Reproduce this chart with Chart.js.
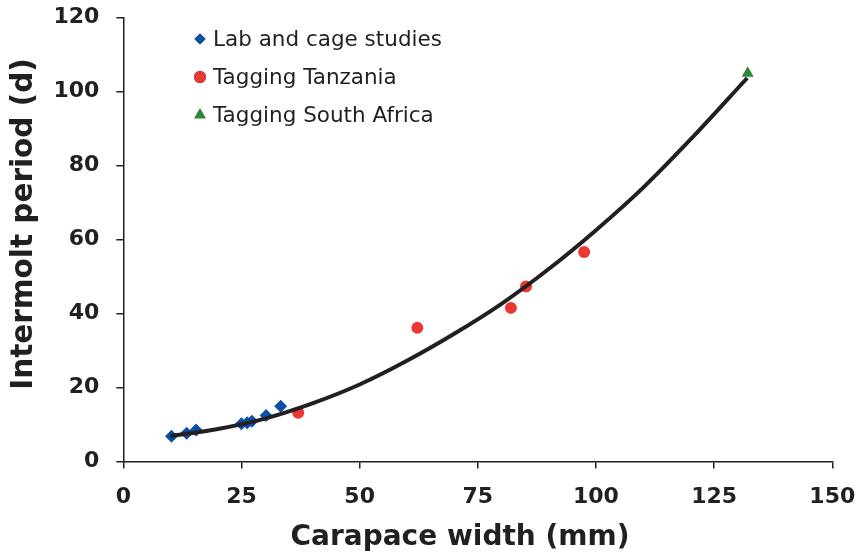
<!DOCTYPE html>
<html>
<head>
<meta charset="utf-8">
<script src="https://cdn.jsdelivr.net/npm/chart.js@4"></script>
<style>
  html, body { margin: 0; padding: 0; background: #fff; }
  #wrap { width: 862px; height: 558px; }
</style>
</head>
<body>
<div id="wrap"><canvas id="chart" width="862" height="558"></canvas></div>
<script>
// values
const labWidth = [10.2, 13.4, 15.4, 25.0, 26.2, 27.2, 30.2, 33.3];
const labPeriod = [6.8, 7.6, 8.5, 10.2, 10.5, 10.9, 12.4, 14.9];

const tanzWidth = [37.0, 62.2, 82.0, 85.2, 97.5];
const tanzPeriod = [13.2, 36.1, 41.5, 47.3, 56.6];

const saWidth = [132.1];
const saPeriod = [104.9];

// trend curve
const trendWidth = [10, 20, 30, 40, 50, 60, 70, 80, 90, 100, 110, 120, 132];
const trendPeriod = [6.9, 8.8, 11.6, 15.7, 20.8, 27.2, 34.5, 42.6, 52, 62.5, 74, 87, 103.6];

const xTicks = [0, 25, 50, 75, 100, 125, 150];
const yTicks = [0, 20, 40, 60, 80, 100, 120];

const xTitle = 'Carapace width (mm)';
const yTitle = 'Intermolt period (d)';

const toPts = (xs, ys) => xs.map((x, i) => ({ x, y: ys[i] }));

const FONT = '"DejaVu Sans", Verdana, sans-serif';
const INK = '#231f20';

// legend drawn inside the plot, top left
const insideLegend = {
  id: 'insideLegend',
  afterDraw(chart) {
    const { ctx } = chart;
    const items = chart.data.datasets.filter((d) => d.inLegend);
    ctx.save();
    ctx.font = '21.5px ' + FONT;
    ctx.textBaseline = 'middle';
    items.forEach((ds, i) => {
      const y = 39 + i * 38;
      Chart.helpers.drawPoint(ctx, {
        pointStyle: ds.pointStyle,
        radius: ds.legendRadius,
        rotation: 0,
        borderWidth: 0
      }, 200, y);
      ctx.fillStyle = ds.backgroundColor;
      ctx.fill();
      ctx.fillStyle = INK;
      ctx.fillText(ds.label, 213, y + 1);
    });
    ctx.restore();
  }
};

// axis titles sit a bit off centre in the original, so draw them here
const axisTitles = {
  id: 'axisTitles',
  afterDraw(chart) {
    const { ctx } = chart;
    ctx.save();
    ctx.fillStyle = INK;
    ctx.textAlign = 'center';
    ctx.textBaseline = 'middle';
    ctx.font = 'bold 28px ' + FONT;
    ctx.fillText(xTitle, 460, 538);
    ctx.translate(24, 224);
    ctx.rotate(-Math.PI / 2);
    ctx.font = 'bold 29.5px ' + FONT;
    ctx.fillText(yTitle, 0, 0);
    ctx.restore();
  }
};

new Chart(document.getElementById('chart'), {
  type: 'scatter',
  data: {
    datasets: [{
      label: 'trend',
      data: toPts(trendWidth, trendPeriod),
      showLine: true,
      borderColor: INK,
      borderWidth: 4,
      pointRadius: 0,
      cubicInterpolationMode: 'monotone',
      order: 0
    }, {
      label: 'Lab and cage studies',
      inLegend: true,
      data: toPts(labWidth, labPeriod),
      pointStyle: 'rectRot',
      pointRadius: 6.5,
      legendRadius: 5.5,
      backgroundColor: '#0d4ea6',
      borderColor: '#0d4ea6',
      borderWidth: 0,
      order: 1
    }, {
      label: 'Tagging Tanzania',
      inLegend: true,
      data: toPts(tanzWidth, tanzPeriod),
      pointStyle: 'circle',
      pointRadius: 6,
      legendRadius: 6,
      backgroundColor: '#ec3832',
      borderColor: '#ec3832',
      borderWidth: 0,
      order: 2
    }, {
      label: 'Tagging South Africa',
      inLegend: true,
      data: toPts(saWidth, saPeriod),
      pointStyle: 'triangle',
      pointRadius: 7,
      legendRadius: 6.5,
      backgroundColor: '#2b8a3a',
      borderColor: '#2b8a3a',
      borderWidth: 0,
      order: 3
    }]
  },
  options: {
    responsive: false,
    animation: false,
    layout: { padding: { top: 17.3, right: 29.7, left: 0, bottom: 0 } },
    plugins: {
      legend: { display: false },
      tooltip: { enabled: false }
    },
    scales: {
      x: {
        type: 'linear',
        min: 0,
        max: 150,
        afterBuildTicks: (s) => { s.ticks = xTicks.map((v) => ({ value: v })); },
        afterFit: (s) => {
          s.height = 96.5;
          s.paddingLeft = 0;
          s.paddingRight = 0;
        },
        border: { color: INK, width: 1.5 },
        grid: { drawOnChartArea: false, drawTicks: true, tickLength: 7, color: INK, lineWidth: 1.5 },
        ticks: { color: INK, padding: 16, font: { family: FONT, size: 22, weight: 'bold' } }
      },
      y: {
        type: 'linear',
        min: 0,
        max: 120,
        afterBuildTicks: (s) => { s.ticks = yTicks.map((v) => ({ value: v })); },
        afterFit: (s) => {
          s.width = 123.3;
          s.paddingTop = 0;
          s.paddingBottom = 0;
        },
        border: { color: INK, width: 1.5 },
        grid: { drawOnChartArea: false, drawTicks: true, tickLength: 7, color: INK, lineWidth: 1.5 },
        ticks: { color: INK, padding: 17, font: { family: FONT, size: 22, weight: 'bold' } }
      }
    }
  },
  plugins: [insideLegend, axisTitles]
});
</script>
</body>
</html>
